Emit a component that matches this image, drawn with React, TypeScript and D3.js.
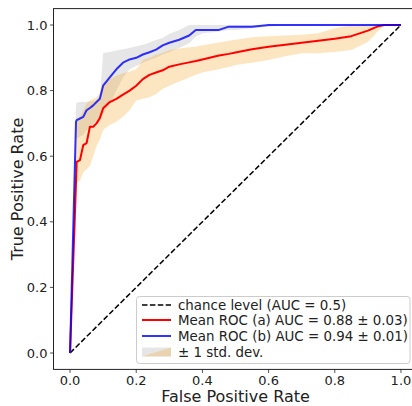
import React from "react";
import * as d3 from "d3";

const meanFpr = [0, 0.018, 0.02, 0.03, 0.04, 0.05, 0.06, 0.07, 0.08, 0.09, 0.1, 0.12, 0.14, 0.16, 0.18, 0.2, 0.22, 0.24, 0.26, 0.28, 0.3, 0.33, 0.36, 0.38, 0.4, 0.45, 0.48, 0.5, 0.55, 0.6, 0.65, 0.7, 0.75, 0.8, 0.85, 0.9, 0.93, 0.95, 1.0];

const tprA = [0, 0.52, 0.583, 0.588, 0.634, 0.64, 0.69, 0.69, 0.7, 0.716, 0.746, 0.765, 0.775, 0.788, 0.8, 0.815, 0.835, 0.848, 0.855, 0.862, 0.873, 0.88, 0.886, 0.89, 0.895, 0.907, 0.912, 0.916, 0.926, 0.934, 0.94, 0.946, 0.952, 0.958, 0.966, 0.983, 0.996, 1, 1];
const upperA = [0, 0.66, 0.7, 0.72, 0.74, 0.76, 0.77, 0.775, 0.78, 0.79, 0.82, 0.835, 0.845, 0.853, 0.858, 0.865, 0.893, 0.9, 0.909, 0.915, 0.924, 0.928, 0.932, 0.934, 0.938, 0.947, 0.952, 0.955, 0.963, 0.966, 0.968, 0.97, 0.975, 0.99, 1, 1, 1, 1, 1];
const lowerA = [0, 0.42, 0.52, 0.525, 0.55, 0.56, 0.57, 0.6, 0.63, 0.65, 0.68, 0.695, 0.705, 0.72, 0.74, 0.77, 0.775, 0.78, 0.79, 0.805, 0.815, 0.828, 0.84, 0.848, 0.855, 0.865, 0.872, 0.878, 0.885, 0.893, 0.905, 0.914, 0.914, 0.918, 0.924, 0.948, 0.98, 1, 1];

const tprB = [0, 0.705, 0.71, 0.715, 0.72, 0.74, 0.747, 0.755, 0.765, 0.775, 0.815, 0.84, 0.865, 0.885, 0.895, 0.9, 0.91, 0.917, 0.925, 0.938, 0.946, 0.955, 0.968, 0.985, 0.985, 0.985, 0.995, 0.995, 0.995, 1, 1, 1, 1, 1, 1, 1, 1, 1, 1];
const upperB = [0, 0.76, 0.763, 0.765, 0.766, 0.766, 0.767, 0.768, 0.77, 0.775, 0.915, 0.918, 0.922, 0.926, 0.93, 0.935, 0.94, 0.947, 0.954, 0.96, 0.973, 0.985, 1, 1, 1, 1, 1, 1, 1, 1, 1, 1, 1, 1, 1, 1, 1, 1, 1];
const lowerB = [0, 0.65, 0.655, 0.66, 0.665, 0.68, 0.69, 0.7, 0.71, 0.72, 0.73, 0.76, 0.8, 0.84, 0.865, 0.875, 0.885, 0.893, 0.9, 0.91, 0.918, 0.93, 0.944, 0.965, 0.975, 0.98, 0.985, 0.985, 0.99, 0.995, 1, 1, 1, 1, 1, 1, 1, 1, 1];

const chanceLine = [0, 1];
const ticks = [0, 0.2, 0.4, 0.6, 0.8, 1.0];
const legendLabels = [
  "chance level (AUC = 0.5)",
  "Mean ROC (a) AUC = 0.88 ± 0.03)",
  "Mean ROC (b) AUC = 0.94 ± 0.01)",
  "± 1 std. dev.",
];

const W = 412;
const H = 406;
const FONT = "DejaVu Sans, sans-serif";

export default function App() {
  const x = d3.scaleLinear().domain([-0.05, 1.05]).range([53.5, 417.5]);
  const y = d3.scaleLinear().domain([-0.05, 1.05]).range([369.4, 8.6]);

  const line = d3
    .line<number>()
    .x((_, i) => x(meanFpr[i]))
    .y((d) => y(d));
  const area = (lo: number[], hi: number[]) =>
    d3
      .area<number>()
      .x((_, i) => x(meanFpr[i]))
      .y0((_, i) => y(lo[i]))
      .y1((_, i) => y(hi[i]))(meanFpr as any) as string;

  const left = x(-0.05);
  const right = x(1.05);
  const top = y(1.05);
  const bottom = y(-0.05);

  const lgX = 136.5;
  const lgY = 296.5;
  const lgW = 273.5;
  const lgH = 67;
  const rowY = [305, 320, 336, 352];

  return (
    <svg
      width={W}
      height={H}
      style={{ position: "absolute", left: 0, top: 0, display: "block", background: "#fff" }}
      fontFamily={FONT}
    >
      <defs>
        <clipPath id="plotclip">
          <rect x={left} y={top} width={right - left} height={bottom - top} />
        </clipPath>
      </defs>
      <rect x={0} y={0} width={W} height={H} fill="#fff" />
      <g clipPath="url(#plotclip)">
        <path d={area(lowerB, upperB)} fill="grey" fillOpacity={0.2} />
        <path d={area(lowerA, upperA)} fill="#f5a623" fillOpacity={0.28} />
        <path
          d={d3.line<number>().x((d) => x(d)).y((d) => y(d))(chanceLine) as string}
          stroke="#000"
          strokeWidth={1.5}
          strokeDasharray="5.5,2.4"
          fill="none"
        />
        <path d={line(tprA) as string} stroke="red" strokeWidth={2} fill="none" strokeLinejoin="round" />
        <path d={line(tprB) as string} stroke="blue" strokeWidth={2} fill="none" strokeOpacity={0.8} strokeLinejoin="round" />
      </g>
      <rect x={left} y={top} width={right - left} height={bottom - top} fill="none" stroke="#222" strokeWidth={1} />
      {ticks.map((t) => (
        <g key={"x" + t}>
          <line x1={x(t)} x2={x(t)} y1={bottom} y2={bottom + 3.5} stroke="#222" strokeWidth={0.8} />
          <text x={x(t)} y={bottom + 16} fontSize={13} textAnchor="middle" fill="#222">
            {t.toFixed(1)}
          </text>
        </g>
      ))}
      {ticks.map((t) => (
        <g key={"y" + t}>
          <line x1={left - 3.5} x2={left} y1={y(t)} y2={y(t)} stroke="#222" strokeWidth={0.8} />
          <text x={left - 6} y={y(t)} dy="0.35em" fontSize={13} textAnchor="end" fill="#222">
            {t.toFixed(1)}
          </text>
        </g>
      ))}
      <text x={(x(0) + x(1)) / 2} y={402} fontSize={16} textAnchor="middle" fill="#222">
        False Positive Rate
      </text>
      <text
        transform={`translate(${23},${(top + bottom) / 2}) rotate(-90)`}
        fontSize={16}
        textAnchor="middle"
        fill="#222"
      >
        True Positive Rate
      </text>
      <rect x={lgX} y={lgY} width={lgW} height={lgH} rx={3} fill="#fff" fillOpacity={0.8} stroke="#ccc" strokeWidth={1} />
      <line x1={142} x2={171} y1={rowY[0]} y2={rowY[0]} stroke="#000" strokeWidth={1.5} strokeDasharray="5.5,2.4" />
      <line x1={142} x2={171} y1={rowY[1]} y2={rowY[1]} stroke="red" strokeWidth={2} />
      <line x1={142} x2={171} y1={rowY[2]} y2={rowY[2]} stroke="blue" strokeOpacity={0.8} strokeWidth={2} />
      <rect x={142} y={rowY[3] - 4.5} width={29} height={9} fill="grey" fillOpacity={0.2} />
      <polygon
        points={`${171},${rowY[3] - 4.5} ${171},${rowY[3] + 4.5} ${142},${rowY[3] + 4.5}`}
        fill="#f5a623"
        fillOpacity={0.28}
      />
      {legendLabels.map((l, i) => (
        <text key={l} x={178} y={rowY[i]} dy="0.35em" fontSize={13.4} fill="#222">
          {l}
        </text>
      ))}
    </svg>
  );
}
